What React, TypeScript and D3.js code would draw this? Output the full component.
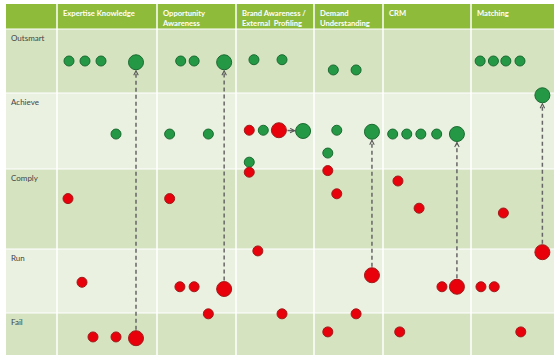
import React from 'react';
import * as d3 from 'd3';

// columns (capability areas) and their header lines
const categories = ['Expertise Knowledge', 'Opportunity Awareness', 'Brand Awareness / External  Profiling', 'Demand Understanding', 'CRM', 'Matching'];
const headerLines = [['Expertise Knowledge'], ['Opportunity', 'Awareness'], ['Brand Awareness /', 'External  Profiling'], ['Demand', 'Understanding'], ['CRM'], ['Matching']];

// maturity levels, bottom to top
const levels = ['Fail', 'Run', 'Comply', 'Achieve', 'Outsmart'];

// each point: pos = position inside its column (0..1), score = level index + place in that band
// ok = green (true) / red (false), big = large marker
const expertisePts = [
  { pos: 0.12, score: 4.5, ok: true, big: false },
  { pos: 0.28, score: 4.5, ok: true, big: false },
  { pos: 0.44, score: 4.5, ok: true, big: false },
  { pos: 0.79, score: 4.48, ok: true, big: true },
  { pos: 0.59, score: 3.46, ok: true, big: false },
  { pos: 0.11, score: 2.63, ok: false, big: false },
  { pos: 0.25, score: 1.48, ok: false, big: false },
  { pos: 0.36, score: 0.43, ok: false, big: false },
  { pos: 0.59, score: 0.43, ok: false, big: false },
  { pos: 0.79, score: 0.40, ok: false, big: true },
];
const opportunityPts = [
  { pos: 0.30, score: 4.5, ok: true, big: false },
  { pos: 0.47, score: 4.5, ok: true, big: false },
  { pos: 0.85, score: 4.48, ok: true, big: true },
  { pos: 0.16, score: 3.46, ok: true, big: false },
  { pos: 0.65, score: 3.46, ok: true, big: false },
  { pos: 0.16, score: 2.63, ok: false, big: false },
  { pos: 0.29, score: 1.41, ok: false, big: false },
  { pos: 0.47, score: 1.41, ok: false, big: false },
  { pos: 0.85, score: 1.375, ok: false, big: true },
  { pos: 0.65, score: 0.98, ok: false, big: false },
];
const brandPts = [
  { pos: 0.23, score: 4.52, ok: true, big: false },
  { pos: 0.59, score: 4.52, ok: true, big: false },
  { pos: 0.17, score: 3.51, ok: false, big: false },
  { pos: 0.35, score: 3.51, ok: true, big: false },
  { pos: 0.55, score: 3.51, ok: false, big: true },
  { pos: 0.86, score: 3.5, ok: true, big: true },
  { pos: 0.17, score: 3.09, ok: true, big: false },
  { pos: 0.17, score: 2.96, ok: false, big: false },
  { pos: 0.28, score: 1.97, ok: false, big: false },
  { pos: 0.59, score: 0.98, ok: false, big: false },
];
const demandPts = [
  { pos: 0.28, score: 4.36, ok: true, big: false },
  { pos: 0.61, score: 4.36, ok: true, big: false },
  { pos: 0.33, score: 3.51, ok: true, big: false },
  { pos: 0.20, score: 3.21, ok: true, big: false },
  { pos: 0.84, score: 3.49, ok: true, big: true },
  { pos: 0.20, score: 2.98, ok: false, big: false },
  { pos: 0.33, score: 2.69, ok: false, big: false },
  { pos: 0.84, score: 1.59, ok: false, big: true },
  { pos: 0.20, score: 0.55, ok: false, big: false },
  { pos: 0.61, score: 0.98, ok: false, big: false },
];
const crmPts = [
  { pos: 0.11, score: 3.46, ok: true, big: false },
  { pos: 0.27, score: 3.46, ok: true, big: false },
  { pos: 0.43, score: 3.46, ok: true, big: false },
  { pos: 0.61, score: 3.46, ok: true, big: false },
  { pos: 0.84, score: 3.46, ok: true, big: true },
  { pos: 0.17, score: 2.85, ok: false, big: false },
  { pos: 0.41, score: 2.51, ok: false, big: false },
  { pos: 0.67, score: 1.41, ok: false, big: false },
  { pos: 0.84, score: 1.41, ok: false, big: true },
  { pos: 0.19, score: 0.55, ok: false, big: false },
];
const matchingPts = [
  { pos: 0.11, score: 4.5, ok: true, big: false },
  { pos: 0.27, score: 4.5, ok: true, big: false },
  { pos: 0.42, score: 4.5, ok: true, big: false },
  { pos: 0.59, score: 4.5, ok: true, big: false },
  { pos: 0.86, score: 3.97, ok: true, big: true },
  { pos: 0.39, score: 2.45, ok: false, big: false },
  { pos: 0.86, score: 1.95, ok: false, big: true },
  { pos: 0.12, score: 1.41, ok: false, big: false },
  { pos: 0.28, score: 1.41, ok: false, big: false },
  { pos: 0.60, score: 0.55, ok: false, big: false },
];
const pointsByCategory = [expertisePts, opportunityPts, brandPts, demandPts, crmPts, matchingPts];

// moves: from point index to point index inside a column
const moves = [
  { cat: 0, from: 9, to: 3 },
  { cat: 1, from: 8, to: 2 },
  { cat: 2, from: 4, to: 5 },
  { cat: 3, from: 7, to: 4 },
  { cat: 4, from: 8, to: 4 },
  { cat: 5, from: 6, to: 4 },
];

const W = 560;
const H = 362;
const tableLeft = 6;
const headerTop = 4;
const colEdges = [57, 157, 236, 314, 383, 471, 554];
const rowEdges = [355, 313, 249, 169, 93, 29];

const GREEN = '#259845';
const GREEN_DARK = '#1b6a31';
const RED = '#e8000b';
const RED_DARK = '#a01c1c';

export default function App() {
  const x = d3.scaleLinear().domain(d3.range(categories.length + 1)).range(colEdges);
  const y = d3.scaleLinear().domain(d3.range(levels.length + 1)).range(rowEdges);
  const rSmall = 5;
  const rBig = 7.5;

  return (
    <svg width={W} height={H} style={{ position: 'absolute', left: 0, top: 0, background: '#fff' }}
      fontFamily="Lato, 'Liberation Sans', sans-serif">
      <defs>
        <marker id="chev" viewBox="0 0 8 8" refX="7" refY="4" markerWidth="6" markerHeight="6"
          markerUnits="userSpaceOnUse" orient="auto">
          <path d="M1,1 L7,4 L1,7" fill="none" stroke="#555" strokeWidth="1.4" />
        </marker>
      </defs>

      {/* level bands */}
      {levels.map((lv, i) => (
        <rect key={lv} x={tableLeft} y={y(i + 1)} width={colEdges[colEdges.length - 1] - tableLeft}
          height={y(i) - y(i + 1)} fill={i % 2 === 0 ? '#d5e3c0' : '#ebf1e0'} />
      ))}
      {/* header */}
      <rect x={tableLeft} y={headerTop} width={colEdges[colEdges.length - 1] - tableLeft}
        height={rowEdges[rowEdges.length - 1] - headerTop} fill="#8fbb3a" />

      {/* white grid lines */}
      {colEdges.slice(0, -1).map(cx => (
        <line key={cx} x1={cx} x2={cx} y1={headerTop} y2={rowEdges[0]} stroke="#fff" strokeWidth={1.5} />
      ))}
      {rowEdges.slice(1).map(ry => (
        <line key={ry} x1={tableLeft} x2={colEdges[colEdges.length - 1]} y1={ry} y2={ry} stroke="#fff" strokeWidth={1.2} />
      ))}

      {/* header text */}
      {headerLines.map((lines, i) => (
        <text key={categories[i]} x={x(i) + 6} y={headerTop + 12} fill="#fff" fontWeight="bold" fontSize={7.6}>
          {lines.map((l, j) => (
            <tspan key={j} x={x(i) + 6} dy={j === 0 ? 0 : 10} style={{ whiteSpace: 'pre' }}>{l}</tspan>
          ))}
        </text>
      ))}

      {/* level labels */}
      {levels.map((lv, i) => (
        <text key={lv} x={tableLeft + 5} y={y(i + 1) + 12} fill="#444" fontSize={8}>{lv}</text>
      ))}

      {/* moves */}
      {moves.map((m, k) => {
        const pts = pointsByCategory[m.cat];
        const a = pts[m.from];
        const b = pts[m.to];
        const ax = x(m.cat + a.pos);
        const ay = y(a.score);
        const bx = x(m.cat + b.pos);
        const by = y(b.score);
        const ra = a.big ? rBig : rSmall;
        const rb = b.big ? rBig : rSmall;
        const len = Math.hypot(bx - ax, by - ay);
        const ux = (bx - ax) / len;
        const uy = (by - ay) / len;
        return (
          <line key={k} x1={ax + ux * (ra + 1)} y1={ay + uy * (ra + 1)}
            x2={bx - ux * (rb + 1)} y2={by - uy * (rb + 1)}
            stroke="#666" strokeWidth={1.5} strokeDasharray={len > 40 ? '4,3' : 'none'}
            markerEnd="url(#chev)" />
        );
      })}

      {/* points */}
      {pointsByCategory.map((pts, ci) => pts.map((p, j) => (
        <circle key={`${ci}-${j}`} cx={x(ci + p.pos)} cy={y(p.score)} r={p.big ? rBig : rSmall}
          fill={p.ok ? GREEN : RED} stroke={p.ok ? GREEN_DARK : RED_DARK} strokeWidth={1} />
      )))}
    </svg>
  );
}
